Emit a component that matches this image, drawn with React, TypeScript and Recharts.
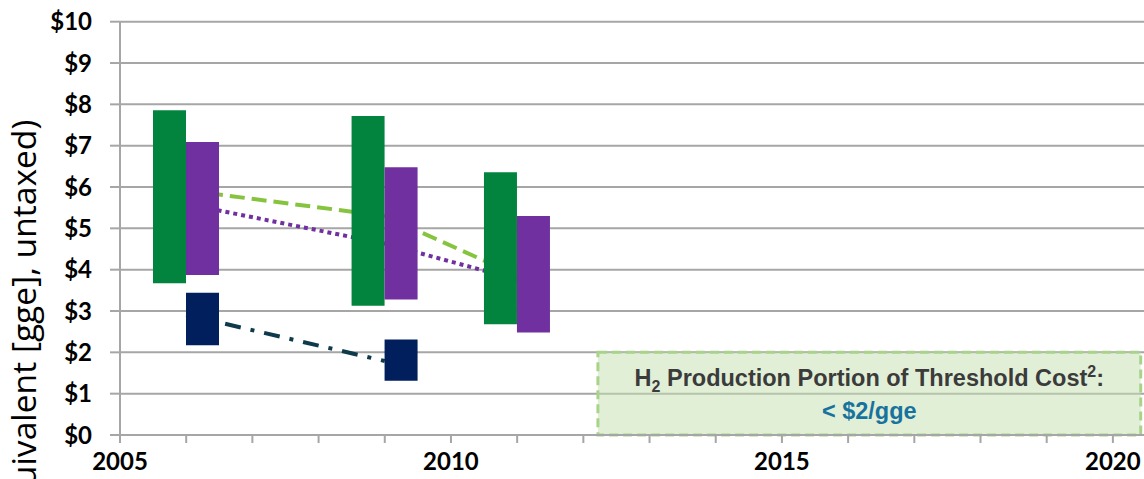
import React from 'react';
import {
  ComposedChart,
  Bar,
  Line,
  XAxis,
  YAxis,
  CartesianGrid,
  ReferenceArea,
} from 'recharts';

// Cost ranges per status year ($/gge), low and high ends of each bar
const years = [2006, 2009, 2011];
const greenLow = [3.67, 3.13, 2.68];
const greenHigh = [7.86, 7.72, 6.36];
const purpleLow = [3.87, 3.28, 2.48];
const purpleHigh = [7.09, 6.48, 5.3];
const navyLow = [2.17, 1.31, null];
const navyHigh = [3.44, 2.31, null];

// Trend lines drawn through the group centres
const greenTrend = [5.92, 5.3, 3.86];
const purpleTrend = [5.59, 4.63, 3.76];
const navyTrend = [2.91, 1.79, null];

const yearTicks = [2005, 2006, 2007, 2008, 2009, 2010, 2011, 2012, 2013, 2014, 2015, 2016, 2017, 2018, 2019, 2020];
const costTicks = [0, 1, 2, 3, 4, 5, 6, 7, 8, 9, 10];
const xDomain: [number, number] = [2005, 2020.47];

// threshold box
const thresholdFrom = 2012.22;
const thresholdTo = 2020.42;
const thresholdCost = 2;

const data = years.map((year, i) => ({
  year,
  green: [greenLow[i], greenHigh[i]],
  purple: [purpleLow[i], purpleHigh[i]],
  navy: navyLow[i] == null ? null : [navyLow[i], navyHigh[i]],
  greenTrend: greenTrend[i],
  purpleTrend: purpleTrend[i],
  navyTrend: navyTrend[i],
}));

const GRID = '#a6a6a6';
const tickFont = { fontFamily: 'Lato', fontWeight: 700, fontSize: 24, fill: '#000' };

function CostAxisLabel(props: any) {
  const vb = props.viewBox || { x: 0, y: 0 };
  const lx = vb.x + 36;
  const ly = vb.y + 98;
  return (
    <text
      x={lx}
      y={ly}
      transform={`rotate(-90 ${lx} ${ly})`}
      textAnchor="end"
      fontFamily="Open Sans"
      fontSize={33.6}
      fill="#000"
    >
      Cost ($/gallon gasoline equivalent [gge], untaxed)
    </text>
  );
}

function ThresholdLabel(props: any) {
  const { x, y, width } = props.viewBox;
  const cx = x + width / 2;
  return (
    <g fontFamily="Liberation Sans, Arial" fontWeight={700}>
      <text x={cx} y={y + 34} textAnchor="middle" fontSize={23.5} fill="#3b3b3b">
        H<tspan dy={6} fontSize={16}>2</tspan>
        <tspan dy={-6}> Production Portion of Threshold Cost</tspan>
        <tspan dy={-9} fontSize={16}>2</tspan>
        <tspan dy={9}>:</tspan>
      </text>
      <text x={cx} y={y + 67} textAnchor="middle" fontSize={23.5} fill="#17739e">
        {'< $2/gge'}
      </text>
    </g>
  );
}

export default function App() {
  return (
    <div
      style={{
        position: 'absolute',
        left: 0,
        top: 0,
        width: 1144,
        height: 479,
        overflow: 'hidden',
        background: '#fff',
      }}
    >
      <ComposedChart
        width={1144}
        height={479}
        data={data}
        margin={{ top: 21.7, right: 0, bottom: 0, left: 0 }}
        barGap={0}
      >
        <CartesianGrid vertical={false} stroke={GRID} strokeWidth={2} />
        <ReferenceArea
          xAxisId="range"
          x1={thresholdFrom}
          x2={thresholdTo}
          y1={0}
          y2={thresholdCost}
          fill="#c5e0b0"
          fillOpacity={0.5}
          stroke="#a9d38a"
          strokeWidth={3}
          strokeDasharray="9 5"
          label={<ThresholdLabel />}
        />
        <XAxis
          xAxisId="range"
          dataKey="year"
          type="number"
          domain={xDomain}
          allowDataOverflow
          ticks={yearTicks}
          interval={0}
          tickFormatter={(v: number) => (v % 5 === 0 ? String(v) : '')}
          tick={tickFont}
          tickLine={{ stroke: GRID, strokeWidth: 2 }}
          tickSize={8}
          tickMargin={10}
          axisLine={{ stroke: GRID, strokeWidth: 2 }}
          height={44}
        />
        <XAxis
          xAxisId="lower"
          dataKey="year"
          type="number"
          domain={xDomain}
          allowDataOverflow
          orientation="top"
          height={0}
          hide
        />
        <YAxis
          domain={[0, 10]}
          ticks={costTicks}
          allowDataOverflow
          interval={0}
          tickFormatter={(v: number) => `$${v}`}
          tick={tickFont}
          tickLine={{ stroke: GRID, strokeWidth: 2 }}
          tickSize={10}
          tickMargin={18}
          axisLine={{ stroke: GRID, strokeWidth: 2 }}
          width={120}
          label={<CostAxisLabel />}
        />
        <Line
          xAxisId="range"
          dataKey="greenTrend"
          stroke="#86c440"
          strokeWidth={4}
          strokeDasharray="15 7"
          dot={false}
          activeDot={false}
          isAnimationActive={false}
          zIndex={250}
        />
        <Line
          xAxisId="range"
          dataKey="purpleTrend"
          stroke="#7030a0"
          strokeWidth={4}
          strokeDasharray="4 4"
          dot={false}
          activeDot={false}
          isAnimationActive={false}
          zIndex={250}
        />
        <Line
          xAxisId="range"
          dataKey="navyTrend"
          stroke="#0e3a4c"
          strokeWidth={4}
          strokeDasharray="16 10 4 10"
          dot={false}
          activeDot={false}
          isAnimationActive={false}
          zIndex={250}
        />
        <Bar xAxisId="range" dataKey="green" fill="#02843e" barSize={33} isAnimationActive={false} />
        <Bar xAxisId="range" dataKey="purple" fill="#7030a0" barSize={33} isAnimationActive={false} />
        <Bar xAxisId="lower" dataKey="spacer" fill="none" barSize={33} isAnimationActive={false} />
        <Bar xAxisId="lower" dataKey="navy" fill="#001f5c" barSize={33} isAnimationActive={false} />
      </ComposedChart>
    </div>
  );
}
